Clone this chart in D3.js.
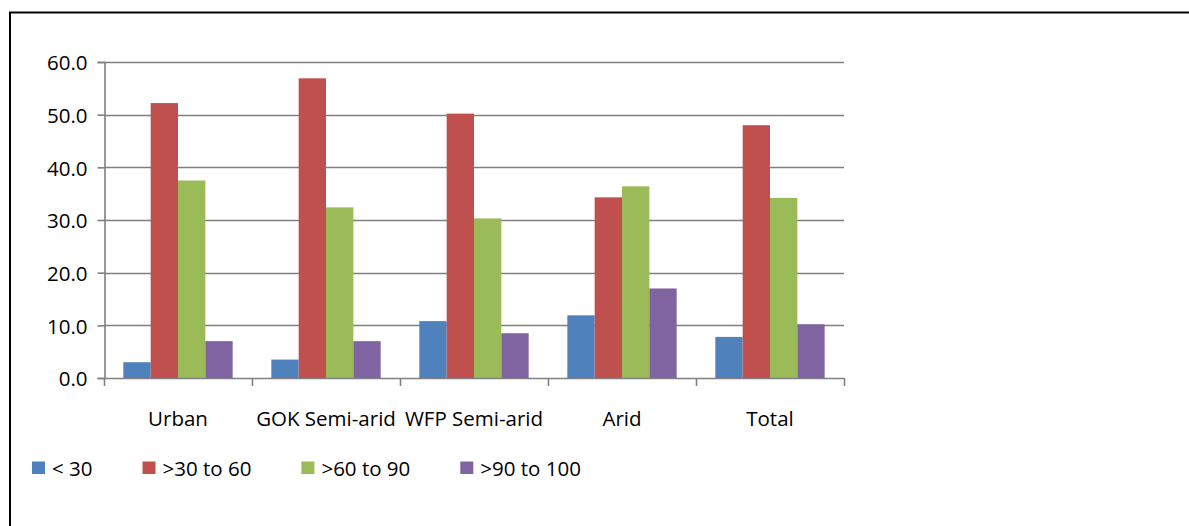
<!DOCTYPE html>
<html>
<head>
<meta charset="utf-8">
<script src="https://cdn.jsdelivr.net/npm/d3@7"></script>
<style>
  html, body { margin: 0; padding: 0; background: #fff; }
  svg { display: block; }
  text { font-family: "Open Sans", "Noto Sans", sans-serif; fill: #000; }
</style>
</head>
<body>
<svg id="chart" width="1189" height="526"></svg>
<script>
// Share of households per score band, by livelihood zone
const categories = ["Urban", "GOK Semi-arid", "WFP Semi-arid", "Arid", "Total"];
const seriesNames = ["< 30", ">30 to 60", ">60 to 90", ">90 to 100"];
const lessThan30 = [3.0, 3.5, 10.8, 11.9, 7.8];
const from30to60 = [52.2, 56.9, 50.2, 34.3, 48.0];
const from60to90 = [37.5, 32.4, 30.3, 36.4, 34.2];
const from90to100 = [7.0, 7.0, 8.5, 17.0, 10.2];
const yTicks = [0, 10, 20, 30, 40, 50, 60];
const colors = ["#4F81BD", "#C0504D", "#9BBB59", "#8064A2"];

const seriesValues = [lessThan30, from30to60, from60to90, from90to100];

const svg = d3.select("#chart");

// Outer frame: top and left edges
svg.append("line").attr("x1", 9).attr("x2", 1189).attr("y1", 12.5).attr("y2", 12.5)
  .attr("stroke", "#000").attr("stroke-width", 2);
svg.append("line").attr("x1", 10).attr("x2", 10).attr("y1", 12).attr("y2", 526)
  .attr("stroke", "#000").attr("stroke-width", 2);

const plot = { left: 104, right: 844, top: 62, bottom: 378 };

const x = d3.scaleBand().domain(categories).range([plot.left, plot.right]).padding(0);
const xInner = d3.scaleBand().domain(d3.range(seriesNames.length))
  .range([0, x.bandwidth()]).paddingInner(0).paddingOuter(0.707);
const y = d3.scaleLinear().domain([0, 60]).range([plot.bottom, plot.top]);

const axisColor = "#808080";

// Horizontal gridlines
svg.append("g").selectAll("line").data(yTicks.slice(1)).join("line")
  .attr("x1", plot.left).attr("x2", plot.right)
  .attr("y1", d => Math.round(y(d)) + 0.5).attr("y2", d => Math.round(y(d)) + 0.5)
  .attr("stroke", axisColor).attr("stroke-width", 1.6);

// Bars
const groups = svg.append("g").selectAll("g").data(categories).join("g")
  .attr("transform", c => `translate(${x(c)},0)`);
groups.selectAll("rect")
  .data((c, ci) => seriesValues.map((vals, si) => ({ si, v: vals[ci] })))
  .join("rect")
  .attr("x", d => xInner(d.si))
  .attr("width", xInner.bandwidth())
  .attr("y", d => y(d.v))
  .attr("height", d => y(0) - y(d.v))
  .attr("fill", d => colors[d.si]);

// Y axis
const yAxis = d3.axisLeft(y).tickValues(yTicks).tickSize(7).tickPadding(10)
  .tickFormat(d3.format(".1f"));
const gy = svg.append("g").attr("transform", `translate(${plot.left + 0.5},0)`).call(yAxis);
gy.select(".domain").attr("stroke", axisColor).attr("stroke-width", 1.6);
gy.selectAll(".tick line").attr("stroke", axisColor).attr("stroke-width", 1.6);
gy.selectAll(".tick text").attr("font-size", 20.5).attr("dy", "0.38em")
  .style("font-family", "'Open Sans', sans-serif").attr("fill", "#000");

// X axis: ticks sit on the category boundaries
const gx = svg.append("g");
gx.append("line").attr("x1", plot.left).attr("x2", plot.right)
  .attr("y1", plot.bottom + 0.5).attr("y2", plot.bottom + 0.5)
  .attr("stroke", axisColor).attr("stroke-width", 1.6);
const boundaries = categories.map(c => x(c)).concat([x(categories[categories.length - 1]) + x.bandwidth()]);
gx.selectAll("line.tk").data(boundaries).join("line").attr("class", "tk")
  .attr("x1", d => Math.round(d) + 0.5).attr("x2", d => Math.round(d) + 0.5)
  .attr("y1", plot.bottom).attr("y2", plot.bottom + 8)
  .attr("stroke", axisColor).attr("stroke-width", 1.6);
gx.selectAll("text").data(categories).join("text")
  .attr("x", c => x(c) + x.bandwidth() / 2)
  .attr("y", 426)
  .attr("text-anchor", "middle")
  .attr("font-size", 20.5)
  .text(c => c);

// Legend
const legend = svg.append("g");
let lx = 32;
seriesNames.forEach((name, i) => {
  legend.append("rect").attr("x", lx).attr("y", 461.5).attr("width", 13).attr("height", 12.5)
    .attr("fill", colors[i]);
  const t = legend.append("text").attr("x", lx + 20).attr("y", 476)
    .attr("font-size", 20.5).text(name);
  lx += 20 + t.node().getComputedTextLength() + 50;
});
</script>
</body>
</html>
